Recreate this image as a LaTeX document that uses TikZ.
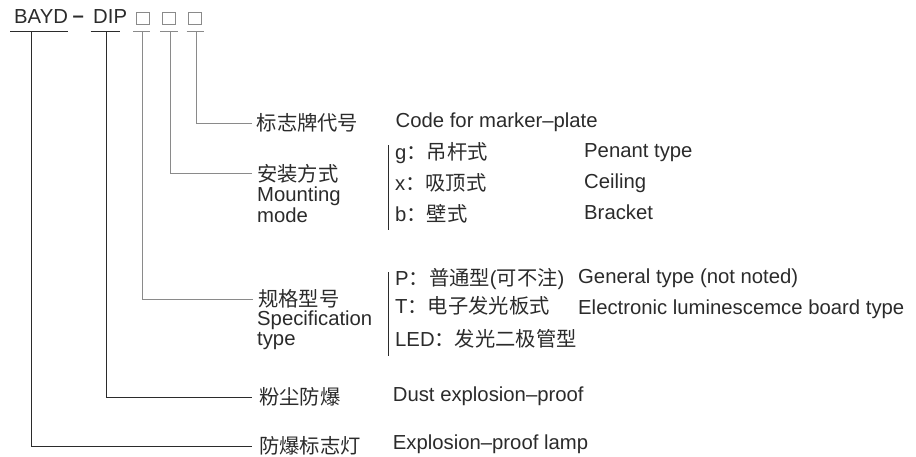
\documentclass[tikz,border=0pt]{standalone}
\usepackage{fontspec}
\setmainfont{Liberation Sans}
\newfontfamily\cjk{Noto Sans CJK SC}
\newcommand\zh[1]{{\cjk #1}}
\definecolor{ink}{HTML}{2B2B2B}
\definecolor{lgray}{HTML}{8A8A8A}
\begin{document}
\begin{tikzpicture}[x=1pt,y=-1pt,
  font=\fontsize{20.3}{23}\selectfont,
  every node/.style={text=ink, inner sep=0pt},
  txt/.style={anchor=base west},
  zhl/.style={anchor=west, font=\fontsize{20.3}{23}\selectfont\cjk},
  ln/.style={draw=ink, line width=0.9pt},
  gln/.style={draw=lgray, line width=0.9pt},
  sqbox/.style={draw=lgray, line width=0.8pt, minimum width=12.8pt, minimum height=12.8pt}]
\useasboundingbox (0,0) rectangle (916,456);
% top code
\node[txt] (bayd) at (14,23.5) {BAYD};
\node[anchor=base] (dash) at (78.3,22.2) {\textbf{–}};
\node[txt] (dip) at (93,23.5) {DIP};
\node[sqbox] (sq1) at (142.7,18.3) {};
\node[sqbox] (sq2) at (168.7,18.3) {};
\node[sqbox] (sq3) at (194.8,18.3) {};
% underlines
\draw[ln] (10,31) -- (68.3,31);
\draw[ln] (90.7,31) -- (120,31);
\draw[gln] (133.3,31) -- (150,31);
\draw[gln] (160,31) -- (178.3,31);
\draw[gln] (186.7,31) -- (204,31);
\coordinate (va) at (31.3,31);
\coordinate (vb) at (106.7,31);
\coordinate (vc) at (142.7,31);
\coordinate (vd) at (170,31);
\coordinate (ve) at (196,31);
% labels
\node[zhl] (codezh) at (256.5,123) {标志牌代号};
\node[txt] (codeen) at (395.5,127) {Code for marker–plate};
\node[zhl] (mountzh) at (257,173.5) {安装方式};
\node[txt] (mount1) at (257,201) {Mounting};
\node[txt] (mount2) at (257,222) {mode};
\node[txt] (g) at (395,159.5) {g\zh{：吊杆式}};
\node[txt] (x) at (395,190.5) {x\zh{：吸顶式}};
\node[txt] (b) at (395,221) {b\zh{：壁式}};
\node[txt] (gen) at (584,157) {Penant type};
\node[txt] (xen) at (584,188.5) {Ceiling};
\node[txt] (ben) at (584,219.5) {Bracket};
\coordinate (bar1t) at (388,145);
\coordinate (bar1b) at (388,230);
\node[zhl] (speczh) at (258,299) {规格型号};
\node[txt] (spec1) at (257,325) {Specification};
\node[txt] (spec2) at (257,345) {type};
\node[txt] (p) at (395,285) {P\zh{：普通型}(\zh{可不注})};
\node[txt] (t) at (395,313.5) {T\zh{：电子发光板式}};
\node[txt] (led) at (395,346) {LED\zh{：发光二极管型}};
\node[txt] (pen) at (578,283.5) {General type (not noted)};
\node[txt] (ten) at (578,314) {Electronic luminescemce board type};
\coordinate (bar2t) at (388,272);
\coordinate (bar2b) at (388,356);
\node[zhl] (dustzh) at (259,397) {粉尘防爆};
\node[txt] (dusten) at (392.7,401) {Dust explosion–proof};
\node[zhl] (lampzh) at (259,446) {防爆标志灯};
\node[txt] (lampen) at (392.7,449) {Explosion–proof lamp};
% bars
\draw[ln] (bar1t) -- (bar1b);
\draw[ln] (bar2t) -- (bar2b);
% connectors
\draw[gln] (ve) |- ([xshift=-5pt]codezh.west);
\draw[gln] (vd) |- ([xshift=-5pt]mountzh.west);
\draw[gln] (vc) |- ([xshift=-5pt]speczh.west);
\draw[ln] (vb) |- ([xshift=-7pt]dustzh.west);
\draw[ln] (va) |- ([xshift=-7pt]lampzh.west);
\end{tikzpicture}
\end{document}
